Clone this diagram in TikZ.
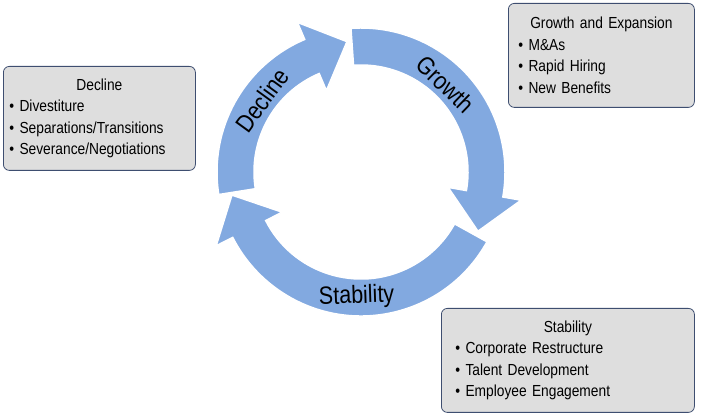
\documentclass[tikz,border=0pt]{standalone}
\usepackage{fontspec}
\setmainfont{Liberation Sans}[FakeStretch=0.86]
\usetikzlibrary{calc}
\definecolor{arr}{HTML}{82A9E0}
\definecolor{boxfill}{HTML}{DEDEDE}
\definecolor{boxline}{HTML}{3E4E70}
\begin{document}
\begin{tikzpicture}[x=1pt,y=1pt,
  arrowfill/.style={fill=arr,draw=white,line width=1.5pt,line join=miter},
  lbl/.style={font=\fontsize{25}{25}\selectfont},
  box/.style={draw=boxline,line width=0.8pt,rounded corners=6pt,fill=boxfill,
    text width=#1,align=left,inner sep=6pt,minimum height=104pt,anchor=north west,font=\fontsize{16}{21.5}\selectfont}]
\useasboundingbox (0,0) rectangle (704,414);
\coordinate (C) at (361,242);
\def\Ro{144}\def\Ri{107}\def\Rm{125.5}\def\Hw{37}\def\Hl{38}
\newcommand\cyc[2]{%
  \filldraw[arrowfill] ($(C)+(#1:\Ro)$) arc[start angle=#1,end angle=#2,radius=\Ro]
    -- ($(C)+(#2:\Rm+\Hw)$) -- ($(C)+(#2:\Rm)+(#2-90:\Hl)$) -- ($(C)+(#2:\Rm-\Hw)$)
    -- ($(C)+(#2:\Ri)$) arc[start angle=#2,end angle=#1,radius=\Ri] -- cycle;}
\newcommand\ttl[1]{\makebox[\linewidth][c]{#1}}
\cyc{-29}{-153}
\cyc{94}{-10}
\cyc{189}{113}
\node[lbl,rotate=54] (dl) at ($(C)+(144:122)$) {Decline};
\node[lbl,rotate=-44] (gl) at ($(C)+(46:122)$) {Growth};
\node[lbl,rotate=2] (sl) at ($(C)+(-92:125)$) {Stability};
\node[box=180pt] (db) at (3,348) {\ttl{Decline}\\
  \textbullet\ Divestiture\\ \textbullet\ Separations/Transitions\\ \textbullet\ Severance/Negotiations};
\node[box=174pt] (gb) at (508,411) {\ttl{Growth and Expansion}\\
  \hspace*{4pt}\textbullet\ M\&As\\ \hspace*{4pt}\textbullet\ Rapid Hiring\\ \hspace*{4pt}\textbullet\ New Benefits};
\node[box=241pt] (sb) at (441,106) {\ttl{Stability}\\
  \hspace*{8pt}\textbullet\ Corporate Restructure\\ \hspace*{8pt}\textbullet\ Talent Development\\ \hspace*{8pt}\textbullet\ Employee Engagement};
\end{tikzpicture}
\end{document}
